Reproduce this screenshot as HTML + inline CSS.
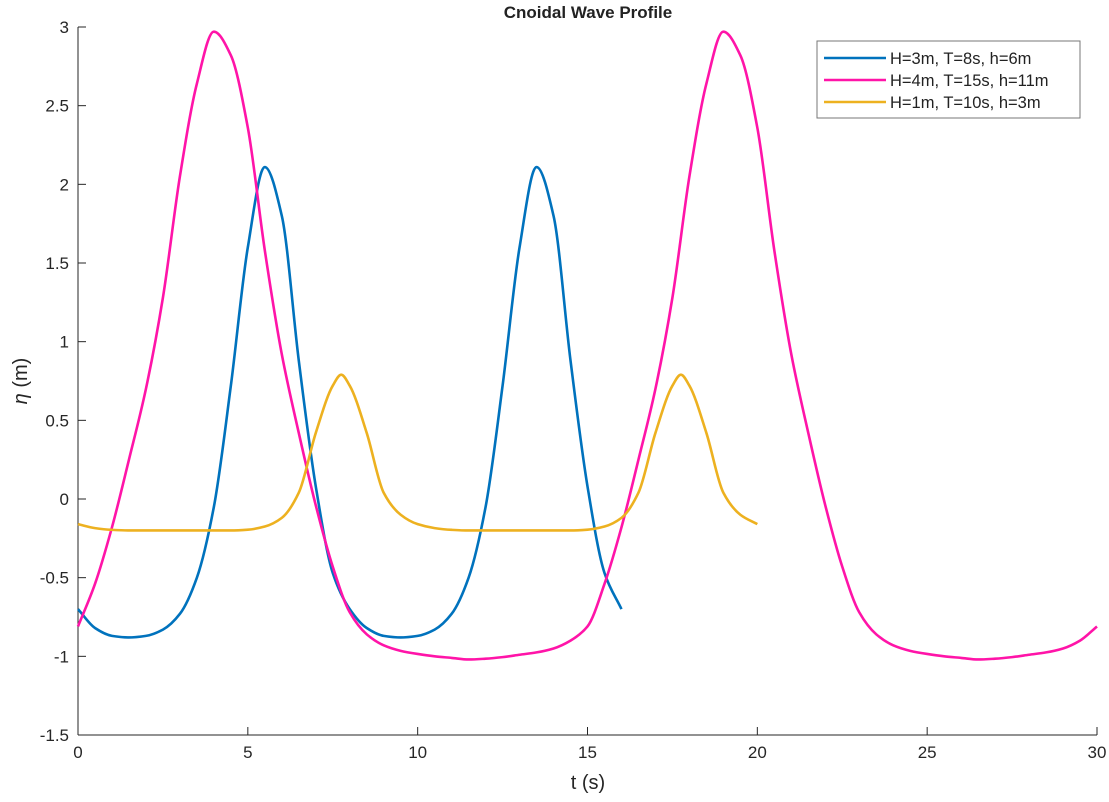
<!DOCTYPE html>
<html><head><meta charset="utf-8"><style>
html,body{margin:0;padding:0;background:#fff;}
svg text{font-family:"Liberation Sans",Arial,sans-serif;}
</style></head><body>
<svg id="chart" width="1109" height="797" xmlns="http://www.w3.org/2000/svg">
<rect width="1109" height="797" fill="#fff"/>
<text x="588" y="18" text-anchor="middle" font-size="17" font-weight="bold" fill="#222">Cnoidal Wave Profile</text>
<g id="axes"></g>
<g id="series"></g>
<text x="588" y="789" text-anchor="middle" font-size="20" fill="#262626">t (s)</text>
<text transform="translate(27,381) rotate(-90)" text-anchor="middle" font-size="20" fill="#262626"><tspan font-style="italic">η</tspan>  (m)</text>
<g>
<rect x="817" y="41" width="263" height="77" fill="#fff" stroke="#777" stroke-width="1"/>
<g><line x1="824" y1="58" x2="886" y2="58" stroke="#0072BD" stroke-width="2.5"/><text x="890" y="64" font-size="16.5" fill="#222">H=3m, T=8s, h=6m</text></g>
<g><line x1="824" y1="80" x2="886" y2="80" stroke="#FF14A8" stroke-width="2.5"/><text x="890" y="86" font-size="16.5" fill="#222">H=4m, T=15s, h=11m</text></g>
<g><line x1="824" y1="102" x2="886" y2="102" stroke="#EDB120" stroke-width="2.5"/><text x="890" y="108" font-size="16.5" fill="#222">H=1m, T=10s, h=3m</text></g>
</g>
</svg>
<script>
const xTicks=[0,5,10,15,20,25,30];
const yTicks=[-1.5,-1,-0.5,0,0.5,1,1.5,2,2.5,3];
const blueT=[0,0.5,1,1.5,2,2.5,3,3.5,4,4.5,5,5.5,6,6.5,7,7.5,8,8.5,9,9.5,10,10.5,11,11.5,12,12.5,13,13.5,14,14.5,15,15.5,16];
const blueY=[-0.70,-0.82,-0.87,-0.88,-0.87,-0.83,-0.73,-0.50,-0.05,0.72,1.6,2.11,1.80,0.88,0.08,-0.47,-0.70,-0.82,-0.87,-0.88,-0.87,-0.83,-0.73,-0.50,-0.05,0.72,1.6,2.11,1.80,0.88,0.08,-0.47,-0.70];
const pinkT=[0,0.5,1,1.5,2,2.5,3,3.5,4,4.5,5,5.5,6,6.5,7,7.5,8,8.5,9,9.5,10,10.5,11,11.5,12,12.5,13,13.5,14,14.5,15,15.5,16,16.5,17,17.5,18,18.5,19,19.5,20,20.5,21,21.5,22,22.5,23,23.5,24,24.5,25,25.5,26,26.5,27,27.5,28,28.5,29,29.5,30];
const pinkY=[-0.81,-0.54,-0.18,0.25,0.70,1.28,2.05,2.64,2.97,2.82,2.36,1.58,0.92,0.42,-0.04,-0.43,-0.72,-0.86,-0.93,-0.965,-0.985,-1.0,-1.01,-1.02,-1.015,-1.005,-0.99,-0.975,-0.95,-0.90,-0.81,-0.54,-0.18,0.25,0.70,1.28,2.05,2.64,2.97,2.82,2.36,1.58,0.92,0.42,-0.04,-0.43,-0.72,-0.86,-0.93,-0.965,-0.985,-1.0,-1.01,-1.02,-1.015,-1.005,-0.99,-0.975,-0.95,-0.90,-0.81];
const yellowT=[0,0.5,1,1.5,2,2.5,3,3.5,4,4.5,5,5.5,6,6.5,7,7.5,7.75,8,8.5,9,9.5,10,10.5,11,11.5,12,12.5,13,13.5,14,14.5,15,15.5,16,16.5,17,17.5,17.75,18,18.5,19,19.5,20];
const yellowY=[-0.16,-0.185,-0.196,-0.2,-0.2,-0.2,-0.2,-0.2,-0.2,-0.2,-0.195,-0.175,-0.12,0.04,0.42,0.72,0.79,0.72,0.42,0.04,-0.10,-0.16,-0.185,-0.196,-0.2,-0.2,-0.2,-0.2,-0.2,-0.2,-0.2,-0.195,-0.175,-0.12,0.04,0.42,0.72,0.79,0.72,0.42,0.04,-0.10,-0.16];

const L=78,R=1097,T=27,B=735;
const sx=v=>L+(v-0)/(30-0)*(R-L);
const sy=v=>B-(v-(-1.5))/(3-(-1.5))*(B-T);
const NS="http://www.w3.org/2000/svg";
const axes=document.getElementById('axes');
function mk(tag,attrs,parent){const e=document.createElementNS(NS,tag);for(const k in attrs)e.setAttribute(k,attrs[k]);parent.appendChild(e);return e;}
const xl=mk('line',{x1:L,y1:B,x2:R,y2:B,stroke:'#262626','stroke-width':1},axes);


const yl=mk('line',{x1:L,y1:T,x2:L,y2:B,stroke:'#262626','stroke-width':1},axes);


xTicks.forEach(v=>{
  const x=sx(v);
  mk('line',{x1:x,y1:B,x2:x,y2:B-8,stroke:'#262626'},axes);
  const t=mk('text',{x:x,y:B+23,'text-anchor':'middle','font-size':17,fill:'#262626'},axes);
  t.textContent=String(v);
  
  
});
yTicks.forEach(v=>{
  const y=sy(v);
  mk('line',{x1:L,y1:y,x2:L+8,y2:y,stroke:'#262626'},axes);
  const t=mk('text',{x:L-9,y:y+6,'text-anchor':'end','font-size':17,fill:'#262626'},axes);
  t.textContent=String(v);
  
  
});
function pathFor(ts,ys){
  const x=ts.map(sx), y=ys.map(sy), n=x.length;
  const d=[],m=new Array(n);
  for(let i=0;i<n-1;i++)d.push((y[i+1]-y[i])/(x[i+1]-x[i]));
  m[0]=d[0];m[n-1]=d[n-2];
  for(let i=1;i<n-1;i++){
    if(d[i-1]*d[i]<=0)m[i]=0;
    else{const h0=x[i]-x[i-1],h1=x[i+1]-x[i];const w1=2*h1+h0,w2=h1+2*h0;m[i]=(w1+w2)/(w1/d[i-1]+w2/d[i]);}
  }
  let s='M'+x[0].toFixed(2)+','+y[0].toFixed(2);
  for(let i=0;i<n-1;i++){
    const h=x[i+1]-x[i];
    s+=' C'+(x[i]+h/3).toFixed(2)+','+(y[i]+m[i]*h/3).toFixed(2)+' '+(x[i+1]-h/3).toFixed(2)+','+(y[i+1]-m[i+1]*h/3).toFixed(2)+' '+x[i+1].toFixed(2)+','+y[i+1].toFixed(2);
  }
  return s;
}
const series=document.getElementById('series');
const s1=mk('path',{d:pathFor(blueT,blueY),fill:'none',stroke:'#0072BD','stroke-width':2.6,'stroke-linejoin':'round'},series);


const s2=mk('path',{d:pathFor(pinkT,pinkY),fill:'none',stroke:'#FF14A8','stroke-width':2.6,'stroke-linejoin':'round'},series);


const s3=mk('path',{d:pathFor(yellowT,yellowY),fill:'none',stroke:'#EDB120','stroke-width':2.6,'stroke-linejoin':'round'},series);


</script>
</body></html>
